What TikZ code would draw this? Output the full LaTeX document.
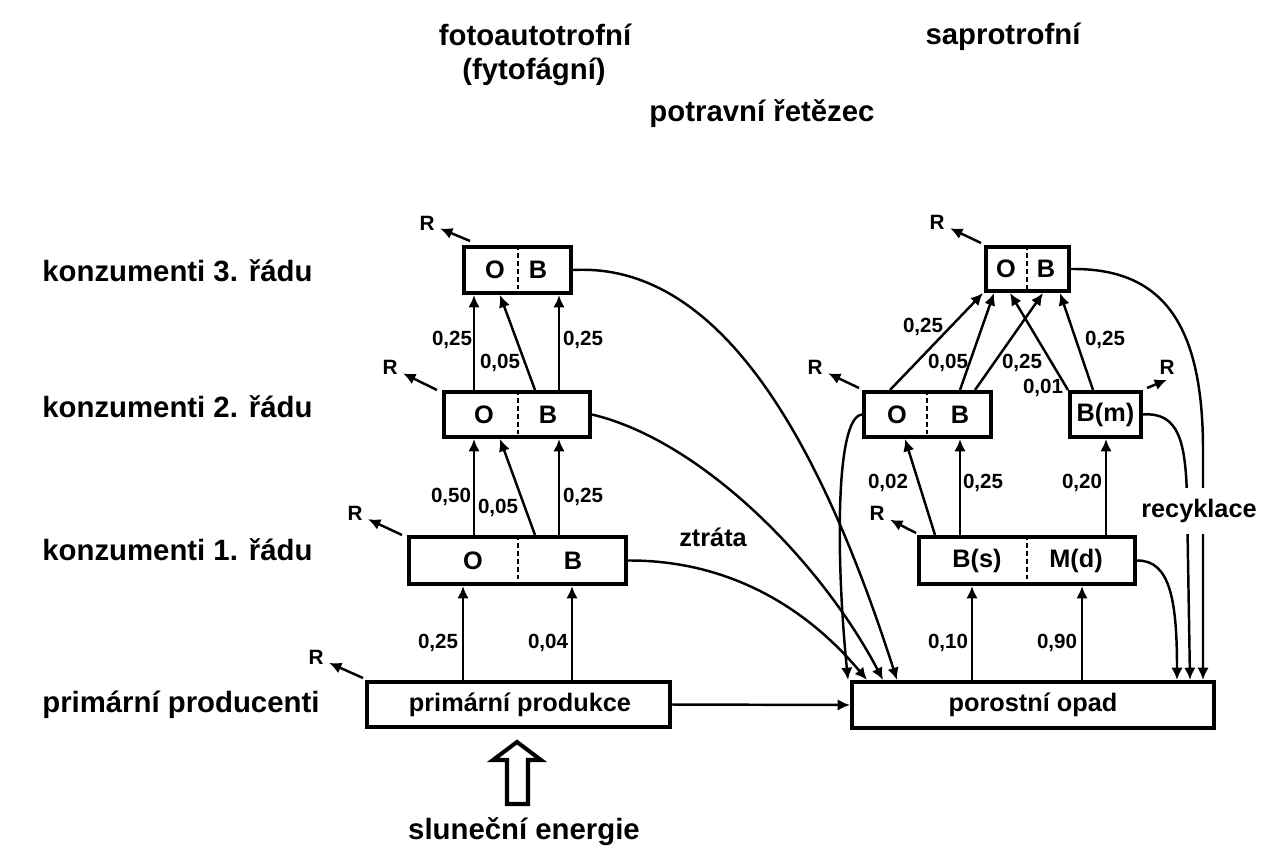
\documentclass[tikz,border=0pt]{standalone}
\usepackage{fontspec}
\setmainfont{Liberation Sans}
\usetikzlibrary{arrows.meta}
\begin{document}
\begin{tikzpicture}[x=0.02cm,y=-0.02cm,
  box/.style={draw,line width=2.3pt,inner sep=0pt},
  arr/.style={line width=1.4pt,-{Latex[length=7pt,width=6.5pt]}},
  div/.style={line width=0.7pt,dash pattern=on 2.8pt off 1.7pt},
  num/.style={font=\bfseries\fontsize{11.7}{14}\selectfont,inner sep=1pt},
  txt/.style={font=\bfseries\fontsize{14.4}{17}\selectfont,inner sep=1pt},
  hd/.style={font=\bfseries\fontsize{16.7}{20}\selectfont,inner sep=0pt},
  rl/.style={font=\bfseries\fontsize{11.8}{14}\selectfont,inner sep=3pt},
]
\fill[white] (0,0) rectangle (1277,866);
\useasboundingbox (0,0) rectangle (1277,866);

% ---- headings
\node[hd] (t1) at (535,35) {fotoautotrofní};
\node[hd] (t2) at (534,72) {(fytofágní)};
\node[hd] (t3) at (762,114) {potravní řetězec};
\node[hd] (t4) at (1003,37) {saprotrofní};
\node[hd,anchor=west] (k3) at (42,271) {konzumenti 3. řádu};
\node[hd,anchor=west] (k2) at (42,407) {konzumenti 2. řádu};
\node[hd,anchor=west] (k1) at (42,550) {konzumenti 1. řádu};
\node[hd,anchor=west] (pp) at (42,705) {primární producenti};
\node[hd] (sun) at (524,832) {sluneční energie};

% ---- left boxes
\node[box,minimum width=2.14cm,minimum height=0.92cm] (L3) at (517.5,270) {};
\node[box,minimum width=2.92cm,minimum height=0.90cm] (L2) at (517,414.5) {};
\node[box,minimum width=4.34cm,minimum height=0.94cm] (L1) at (517.5,560.5) {};
\node[box,minimum width=6.06cm,minimum height=0.90cm] (PP) at (518.5,704.5) {};
\draw[div] (518,0 |- L3.north) -- (518,0 |- L3.south);
\draw[div] (518,0 |- L2.north) -- (518,0 |- L2.south);
\draw[div] (518,0 |- L1.north) -- (518,0 |- L1.south);
\node[txt] (L3o) at (495,270) {O};
\node[txt] (L3b) at (538,270) {B};
\node[txt] (L2o) at (484,414.5) {O};
\node[txt] (L2b) at (548,414.5) {B};
\node[txt] (L1o) at (473,560.5) {O};
\node[txt] (L1b) at (573,560.5) {B};
\node[txt] (PPt) at (520,704.5) {primární produkce};

% ---- right boxes
\node[box,minimum width=1.66cm,minimum height=0.88cm] (R3) at (1027.5,269) {};
\node[box,minimum width=2.54cm,minimum height=0.90cm] (R2a) at (927.5,414.5) {};
\node[box,minimum width=1.42cm,minimum height=0.90cm] (R2b) at (1105.5,414.5) {};
\node[box,minimum width=4.32cm,minimum height=0.94cm] (R1) at (1027,560.5) {};
\node[box,minimum width=7.24cm,minimum height=0.92cm] (PO) at (1033,705) {};
\draw[div] (1027,0 |- R3.north) -- (1027,0 |- R3.south);
\draw[div] (927,0 |- R2a.north) -- (927,0 |- R2a.south);
\draw[div] (1027,0 |- R1.north) -- (1027,0 |- R1.south);
\node[txt] (R3o) at (1006,269) {O};
\node[txt] (R3b) at (1046,269) {B};
\node[txt] (R2ao) at (897,414.5) {O};
\node[txt] (R2ab) at (960,414.5) {B};
\node[txt] (R2bt) at (1105.5,414.5) {B(m)};
\node[txt] (R1s) at (977,560.5) {B(s)};
\node[txt] (R1d) at (1076,560.5) {M(d)};
\node[txt] (POt) at (1033,705) {porostní opad};

% ---- left arrows
\draw[arr] (463,0 |- PP.north) -- (463,0 |- L1.south);
\draw[arr] (572,0 |- PP.north) -- (572,0 |- L1.south);
\draw[arr] (474,0 |- L1.north) -- (474,0 |- L2.south);
\draw[arr] (535,0 |- L1.north) -- (500,0 |- L2.south);
\draw[arr] (559,0 |- L1.north) -- (559,0 |- L2.south);
\draw[arr] (474,0 |- L2.north) -- (474,0 |- L3.south);
\draw[arr] (535,0 |- L2.north) -- (500,0 |- L3.south);
\draw[arr] (559,0 |- L2.north) -- (559,0 |- L3.south);
\node[num] (n1) at (438,643) {0,25};
\node[num] (n2) at (548,643) {0,04};
\node[num] (n3) at (451,497) {0,50};
\node[num] (n4) at (498,508) {0,05};
\node[num] (n5) at (583,497) {0,25};
\node[num] (n6) at (452,340) {0,25};
\node[num] (n7) at (500,363) {0,05};
\node[num] (n8) at (583,340) {0,25};

% ---- right arrows
\draw[arr] (972,0 |- PO.north) -- (972,0 |- R1.south);
\draw[arr] (1082,0 |- PO.north) -- (1082,0 |- R1.south);
\draw[arr] (935,0 |- R1.north) -- (905,0 |- R2a.south);
\draw[arr] (960,0 |- R1.north) -- (960,0 |- R2a.south);
\draw[arr] (1106,0 |- R1.north) -- (1106,0 |- R2b.south);
\draw[arr] (890,0 |- R2a.north) -- (983,0 |- R3.south);
\draw[arr] (960,0 |- R2a.north) -- (994,0 |- R3.south);
\draw[arr] (975,0 |- R2a.north) -- (1043,0 |- R3.south);
\draw[arr] (1068,0 |- R2b.north) -- (1010,0 |- R3.south);
\draw[arr] (1093,0 |- R2b.north) -- (1060,0 |- R3.south);
\node[num] (m1) at (948,643) {0,10};
\node[num] (m2) at (1057,643) {0,90};
\node[num] (m3) at (888,483) {0,02};
\node[num] (m4) at (983,483) {0,25};
\node[num] (m5) at (1082,483) {0,20};
\node[num] (m6) at (923,327) {0,25};
\node[num] (m7) at (948,363) {0,05};
\node[num] (m8) at (1022,363) {0,25};
\node[num] (m9) at (1043,388) {0,01};
\node[num] (m10) at (1105,340) {0,25};

% ---- respiration R
\node[rl] (rL3) at (427,223) {R};
\node[rl] (rL2) at (390,367) {R};
\node[rl] (rL1) at (355,513) {R};
\node[rl] (rPP) at (316,657) {R};
\node[rl] (rR3) at (937,222) {R};
\node[rl] (rR2a) at (815,367) {R};
\node[rl] (rR2b) at (1167,367) {R};
\node[rl] (rR1) at (877,513) {R};
\draw[arr] ([shift={(8,-4)}]L3.north west) -- (rL3);
\draw[arr] ([shift={(-5,0)}]L2.north west) -- (rL2);
\draw[arr] ([shift={(-5,0)}]L1.north west) -- (rL1);
\draw[arr] ([shift={(-2,-2)}]PP.north west) -- (rPP);
\draw[arr] ([shift={(-3,-2)}]R3.north west) -- (rR3);
\draw[arr] ([shift={(-3,-2)}]R2a.north west) -- (rR2a);
\draw[arr] ([shift={(-1,-2)}]R1.north west) -- (rR1);
\draw[arr] ([shift={(4,-2)}]R2b.north east) -- (rR2b.south);

% ---- losses to litter
\draw[arr] (PP.east) -- (PO.west);
\draw[arr] (L3.east) .. controls (720,262) and (820,440) .. (897,0 |- PO.north);
\draw[arr] (L2.east) .. controls (700,440) and (820,560) .. (883,0 |- PO.north);
\draw[arr] (L1.east) .. controls (720,560) and (800,600) .. (867,0 |- PO.north);
\draw[arr] (R2a.west) .. controls (835,417) and (836,560) .. (848,0 |- PO.north);
\draw[arr] (R1.east) .. controls (1170,560) and (1177,600) .. (1177,0 |- PO.north);
\draw[arr] (R2b.east) .. controls (1178,412) and (1186,440) .. (1187,500) -- (1190,0 |- PO.north);
\draw[arr] (R3.east) .. controls (1160,268) and (1203,320) .. (1203,450) -- (1203,0 |- PO.north);
\node[txt] (ztr) at (713,537) {ztráta};
\node[txt,fill=white,inner xsep=2pt,inner ysep=6.4pt] (rec) at (1199,511) {recyklace};

% ---- solar energy arrow
\draw[line width=2.3pt,line join=miter] (517,742) -- (541,760) -- (528,760) -- (528,804) -- (507,804) -- (507,760) -- (493,760) -- cycle;
\end{tikzpicture}
\end{document}
